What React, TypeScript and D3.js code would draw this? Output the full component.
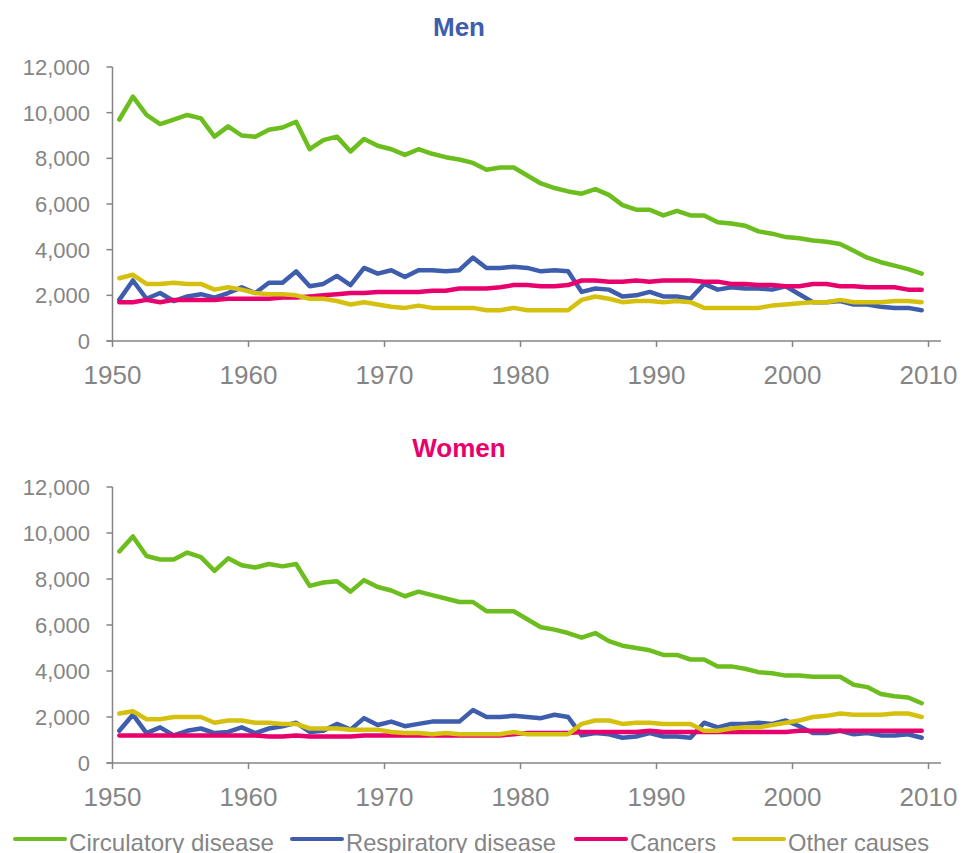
import React, { useEffect, useRef } from 'react';
import * as d3 from 'd3';

// categories: one point per year, plotted at mid-year
const years = d3.range(1950, 2010);
const xTickLabels = [1950, 1960, 1970, 1980, 1990, 2000, 2010];
const yTickLabels = [0, 2000, 4000, 6000, 8000, 10000, 12000];

const seriesNames = ['Circulatory disease', 'Respiratory disease', 'Cancers', 'Other causes'];
const seriesColors = ['#6cbd1e', '#3f5dad', '#e8006c', '#d6c00e'];

const menCirculatory = [
  9700, 10700, 9900, 9500, 9700, 9900, 9750, 8950, 9400, 9000,
  8950, 9250, 9350, 9600, 8400, 8800, 8950, 8300, 8850, 8550,
  8400, 8150, 8400, 8200, 8050, 7950, 7800, 7500, 7600, 7600,
  7250, 6900, 6700, 6550, 6450, 6650, 6400, 5950, 5750, 5750,
  5500, 5700, 5500, 5500, 5200, 5150, 5050, 4800, 4700, 4550,
  4500, 4400, 4350, 4250, 3950, 3650, 3450, 3300, 3150, 2950,
];
const menRespiratory = [
  1800, 2650, 1850, 2100, 1750, 1950, 2050, 1900, 2100, 2350,
  2100, 2550, 2550, 3050, 2400, 2500, 2850, 2450, 3200, 2950,
  3100, 2800, 3100, 3100, 3050, 3100, 3650, 3200, 3200, 3250,
  3200, 3050, 3100, 3050, 2150, 2300, 2250, 1950, 2000, 2150,
  1950, 1950, 1850, 2500, 2250, 2350, 2300, 2300, 2250, 2400,
  2050, 1700, 1700, 1750, 1600, 1600, 1500, 1450, 1450, 1350,
];
const menCancers = [
  1700, 1700, 1800, 1700, 1800, 1800, 1800, 1800, 1850, 1850,
  1850, 1850, 1900, 1900, 1950, 2000, 2050, 2100, 2100, 2150,
  2150, 2150, 2150, 2200, 2200, 2300, 2300, 2300, 2350, 2450,
  2450, 2400, 2400, 2450, 2650, 2650, 2600, 2600, 2650, 2600,
  2650, 2650, 2650, 2600, 2600, 2500, 2500, 2450, 2450, 2400,
  2400, 2500, 2500, 2400, 2400, 2350, 2350, 2350, 2250, 2250,
];
const menOther = [
  2750, 2900, 2500, 2500, 2550, 2500, 2500, 2250, 2350, 2250,
  2100, 2050, 2050, 2000, 1850, 1850, 1750, 1600, 1700, 1600,
  1500, 1450, 1550, 1450, 1450, 1450, 1450, 1350, 1350, 1450,
  1350, 1350, 1350, 1350, 1800, 1950, 1850, 1700, 1750, 1750,
  1700, 1750, 1700, 1450, 1450, 1450, 1450, 1450, 1550, 1600,
  1650, 1700, 1700, 1800, 1700, 1700, 1700, 1750, 1750, 1700,
];

const womenCirculatory = [
  9200, 9850, 9000, 8850, 8850, 9150, 8950, 8350, 8900, 8600,
  8500, 8650, 8550, 8650, 7700, 7850, 7900, 7450, 7950, 7650,
  7500, 7250, 7450, 7300, 7150, 7000, 7000, 6600, 6600, 6600,
  6250, 5900, 5800, 5650, 5450, 5650, 5300, 5100, 5000, 4900,
  4700, 4700, 4500, 4500, 4200, 4200, 4100, 3950, 3900, 3800,
  3800, 3750, 3750, 3750, 3400, 3300, 3000, 2900, 2850, 2600,
];
const womenRespiratory = [
  1400, 2100, 1300, 1550, 1200, 1400, 1500, 1300, 1350, 1550,
  1300, 1500, 1600, 1750, 1350, 1400, 1700, 1450, 1950, 1650,
  1800, 1600, 1700, 1800, 1800, 1800, 2300, 2000, 2000, 2050,
  2000, 1950, 2100, 2000, 1200, 1300, 1250, 1100, 1150, 1300,
  1150, 1150, 1100, 1750, 1550, 1700, 1700, 1750, 1700, 1850,
  1600, 1300, 1300, 1400, 1250, 1300, 1200, 1200, 1250, 1100,
];
const womenCancers = [
  1200, 1200, 1200, 1200, 1200, 1200, 1200, 1200, 1200, 1200,
  1200, 1150, 1150, 1200, 1150, 1150, 1150, 1150, 1200, 1200,
  1200, 1200, 1200, 1200, 1200, 1200, 1200, 1200, 1200, 1250,
  1300, 1300, 1300, 1300, 1350, 1350, 1350, 1350, 1350, 1400,
  1350, 1350, 1350, 1350, 1350, 1350, 1350, 1350, 1350, 1350,
  1400, 1400, 1400, 1400, 1400, 1400, 1400, 1400, 1400, 1400,
];
const womenOther = [
  2150, 2250, 1900, 1900, 2000, 2000, 2000, 1750, 1850, 1850,
  1750, 1750, 1700, 1700, 1500, 1500, 1500, 1450, 1450, 1450,
  1350, 1300, 1300, 1250, 1300, 1250, 1250, 1250, 1250, 1350,
  1250, 1250, 1250, 1250, 1700, 1850, 1850, 1700, 1750, 1750,
  1700, 1700, 1700, 1400, 1400, 1500, 1550, 1550, 1650, 1750,
  1850, 2000, 2050, 2150, 2100, 2100, 2100, 2150, 2150, 2000,
];

const W = 966;
const H = 853;
const FONT = '"Liberation Sans", Arial, sans-serif';
const GREY = '#858585';

const App: React.FC = () => {
  const svgRef = useRef<SVGSVGElement>(null);

  useEffect(() => {
    if (!svgRef.current) return;
    const svg = d3.select(svgRef.current);
    svg.selectAll('*').remove();

    const panels = [
      { title: 'Men', color: '#3f5dad', titleY: 36, top: 67, bottom: 341, series: [menCirculatory, menRespiratory, menCancers, menOther] },
      { title: 'Women', color: '#e8006c', titleY: 457, top: 487, bottom: 763, series: [womenCirculatory, womenRespiratory, womenCancers, womenOther] },
    ];

    const x = d3.scaleLinear().domain([1950, 2010]).range([112.5, 928.5]);

    panels.forEach(p => {
      const y = d3.scaleLinear().domain([0, 12000]).range([p.bottom, p.top]);
      const g = svg.append('g');

      g.append('text')
        .attr('x', 459)
        .attr('y', p.titleY)
        .attr('text-anchor', 'middle')
        .attr('font-family', FONT)
        .attr('font-size', 26)
        .attr('font-weight', 'bold')
        .attr('fill', p.color)
        .text(p.title);

      // y axis
      g.append('line')
        .attr('x1', x(1950)).attr('x2', x(1950))
        .attr('y1', y(12000)).attr('y2', y(0))
        .attr('stroke', GREY).attr('stroke-width', 1.5);
      yTickLabels.forEach(v => {
        g.append('line')
          .attr('x1', x(1950) - 6).attr('x2', x(1950))
          .attr('y1', y(v)).attr('y2', y(v))
          .attr('stroke', GREY).attr('stroke-width', 1.5);
        g.append('text')
          .attr('x', 90)
          .attr('y', y(v) + 8)
          .attr('text-anchor', 'end')
          .attr('font-family', FONT)
          .attr('font-size', 22)
          .attr('fill', GREY)
          .text(d3.format(',')(v));
      });

      // x axis
      g.append('line')
        .attr('x1', x(1950) - 6).attr('x2', 941)
        .attr('y1', y(0)).attr('y2', y(0))
        .attr('stroke', GREY).attr('stroke-width', 1.5);
      xTickLabels.forEach(t => {
        g.append('line')
          .attr('x1', x(t)).attr('x2', x(t))
          .attr('y1', y(0)).attr('y2', y(0) + 6)
          .attr('stroke', GREY).attr('stroke-width', 1.5);
        g.append('text')
          .attr('x', x(t))
          .attr('y', y(0) + 43)
          .attr('text-anchor', 'middle')
          .attr('font-family', FONT)
          .attr('font-size', 26)
          .attr('fill', GREY)
          .text(t);
      });

      const line = d3.line<number>()
        .x((_, i) => x(years[i] + 0.5))
        .y(d => y(d));

      p.series.forEach((s, k) => {
        g.append('path')
          .datum(s)
          .attr('d', line)
          .attr('fill', 'none')
          .attr('stroke', seriesColors[k])
          .attr('stroke-width', 4.5)
          .attr('stroke-linejoin', 'round')
          .attr('stroke-linecap', 'round');
      });
    });

    // legend
    const legendX = [15, 292, 576, 734];
    const legendLen = [205, 210, 86, 141];
    const legend = svg.append('g');
    seriesNames.forEach((name, k) => {
      legend.append('line')
        .attr('x1', legendX[k]).attr('x2', legendX[k] + 50)
        .attr('y1', 839).attr('y2', 839)
        .attr('stroke', seriesColors[k])
        .attr('stroke-width', 4)
        .attr('stroke-linecap', 'round');
      legend.append('text')
        .attr('x', legendX[k] + 54)
        .attr('y', 851)
        .attr('font-family', FONT)
        .attr('font-size', 24)
        .attr('fill', GREY)
        .attr('textLength', legendLen[k])
        .attr('lengthAdjust', 'spacingAndGlyphs')
        .text(name);
    });
  }, []);

  return (
    <svg
      ref={svgRef}
      width={W}
      height={H}
      viewBox={`0 0 ${W} ${H}`}
      style={{ position: 'absolute', left: 0, top: 0, background: '#fff' }}
    />
  );
};

export default App;
